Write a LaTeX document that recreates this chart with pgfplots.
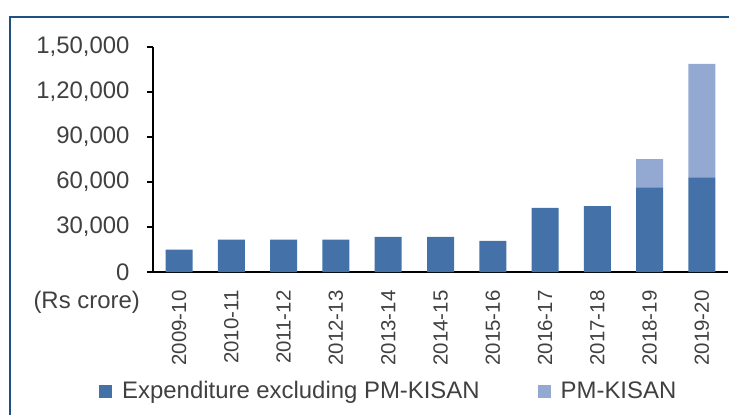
\documentclass[border=0pt]{standalone}
\usepackage{pgfplots}
\pgfplotsset{compat=1.18}
\usepackage{fontspec}
\setmainfont{Liberation Sans}
\definecolor{darkbar}{HTML}{4471A8}
\definecolor{lightbar}{HTML}{94A9D1}
\definecolor{txt}{HTML}{404040}
\definecolor{framec}{HTML}{1F5283}
\begin{document}
\begin{tikzpicture}[x=1bp,y=1bp]
\path[use as bounding box] (0,0) rectangle (729,415);
\draw[framec, line width=2.5bp] (10,0) -- (10,398) -- (729,398);
\begin{axis}[
  at={(153bp,143bp)}, anchor=south west,
  scale only axis, width=575bp, height=225bp,
  xmin=-0.5, xmax=10.5, ymin=0, ymax=150000,
  enlargelimits=false,
  ybar stacked, bar width=27bp,
  axis x line*=bottom, axis y line*=left,
  axis line style={black, line width=1.3bp},
  xtick={0,...,10},
  xticklabels={2009-10,2010-11,2011-12,2012-13,2013-14,2014-15,2015-16,2016-17,2017-18,2018-19,2019-20},
  x tick label style={rotate=90, anchor=east, xshift=-9bp, font=\fontsize{20.5}{20.5}\selectfont, text=txt},
  major x tick style={draw=none},
  ytick={0,30000,60000,90000,120000,150000},
  yticklabels={0,{30,000},{60,000},{90,000},{1,20,000},{1,50,000}},
  y tick label style={xshift=-14bp, font=\fontsize{24}{24}\selectfont, text=txt},
  scaled y ticks=false,
  tick align=outside, major tick length=6bp,
  every tick/.style={black, line width=1.3bp},
  legend style={at={(0.41,-0.529)}, anchor=center, draw=none, fill=none,
    font=\fontsize{24}{24}\selectfont, text=txt,
    /tikz/every even column/.append style={column sep=56bp}},
  legend columns=2,
  legend image code/.code={\fill[#1] (0bp,-6.5bp) rectangle (13bp,6.5bp); \path (21bp,0bp);},
]
\addplot[fill=darkbar, draw=none] coordinates {
 (0,14900) (1,21600) (2,21600) (3,21600) (4,23500) (5,23500) (6,20700) (7,42700) (8,44000) (9,56500) (10,63100)};
\addplot[fill=lightbar, draw=none] coordinates {
 (0,0) (1,0) (2,0) (3,0) (4,0) (5,0) (6,0) (7,0) (8,0) (9,18800) (10,75600)};
\legend{Expenditure excluding PM-KISAN, PM-KISAN}
\end{axis}
\node[anchor=east, text=txt, font=\fontsize{24}{24}\selectfont, inner sep=0pt] at (140,112.5) {(Rs crore)};
\end{tikzpicture}
\end{document}
